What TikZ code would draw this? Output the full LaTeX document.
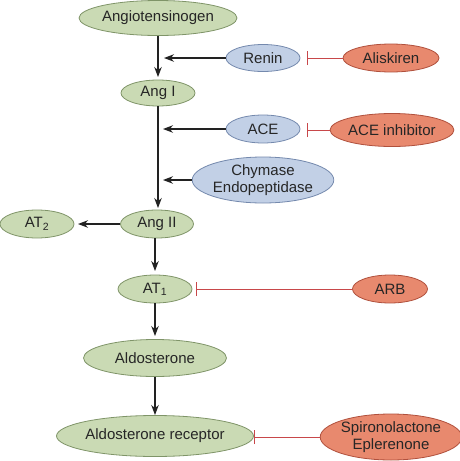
\documentclass[tikz,border=0pt]{standalone}
\usepackage{fontspec}
\setmainfont{Liberation Sans}
\usetikzlibrary{shapes.geometric,arrows.meta}
\definecolor{gfill}{HTML}{CADAB4}
\definecolor{gdraw}{HTML}{7F9468}
\definecolor{bfill}{HTML}{C2D0E6}
\definecolor{bdraw}{HTML}{7489AD}
\definecolor{rfill}{HTML}{E8896E}
\definecolor{rdraw}{HTML}{B0503C}
\definecolor{inh}{HTML}{C8474A}
\definecolor{arr}{HTML}{222222}
\tikzset{
  base/.style={ellipse,inner sep=0pt,line width=0.8pt,align=center,text=black!85,font=\fontsize{15}{16.5}\selectfont},
  gnode/.style={base,fill=gfill,draw=gdraw},
  bnode/.style={base,fill=bfill,draw=bdraw},
  rnode/.style={base,fill=rfill,draw=rdraw},
  act/.style={draw=arr,line width=1.2pt,-{Stealth[length=10pt,width=7.5pt]}},
  blk/.style={draw=inh,line width=1pt,-{Bar[width=14pt,line width=1pt]}},
}
\begin{document}
\begin{tikzpicture}[x=1pt,y=-1pt]
\useasboundingbox (0,0) rectangle (460,461);
\node[gnode,minimum width=142,minimum height=35] (agt) at (158,18) {Angiotensinogen};
\node[bnode,minimum width=74,minimum height=27] (renin) at (263,58) {Renin};
\node[rnode,minimum width=96,minimum height=28] (alis) at (391,58) {Aliskiren};
\node[gnode,minimum width=74,minimum height=26] (ang1) at (158,93) {Ang I};
\node[bnode,minimum width=74,minimum height=28] (ace) at (263,129) {ACE};
\node[rnode,minimum width=96,minimum height=33] (acei) at (392,130) {ACE inhibitor};
\node[bnode,minimum width=137,minimum height=46] (chy) at (263,180) {Chymase\\Endopeptidase};
\node[gnode,minimum width=73,minimum height=28] (ang2) at (157,224) {Ang II};
\node[gnode,minimum width=74,minimum height=28] (at2) at (37,224) {AT\textsubscript{2}};
\node[gnode,minimum width=74,minimum height=28] (at1) at (155,289) {AT\textsubscript{1}};
\node[rnode,minimum width=75,minimum height=28] (arb) at (390,289) {ARB};
\node[gnode,minimum width=143,minimum height=37] (aldo) at (155,358) {Aldosterone};
\node[gnode,minimum width=185,minimum height=41] (aldr) at (155,436) {Aldosterone receptor};
\node[rnode,minimum width=137,minimum height=46] (spiro) at (391,437) {Spironolactone\\Eplerenone};
\coordinate (c1) at (164,58);
\coordinate (c2) at (163,129);
\coordinate (c3) at (163,180);
\coordinate (b1) at (307,58);
\coordinate (b2) at (307,130);
\coordinate (b3) at (196,289);
\coordinate (b4) at (254,437);
\coordinate (t1) at (158,77);
\coordinate (t2) at (158,208);
\coordinate (t3) at (155,271);
\coordinate (t4) at (155,336);
\coordinate (t5) at (155,415);
\coordinate (t6) at (78,224);
\draw[act] (agt.south) -- (t1);
\draw[act] (ang1.south) -- (t2);
\draw[act] (ang2.south -| t3) -- (t3);
\draw[act] (at1.south) -- (t4);
\draw[act] (aldo.south) -- (t5);
\draw[act] (ang2.west) -- (t6);
\draw[act] (renin.west) -- (c1);
\draw[act] (ace.west) -- (c2);
\draw[act] (chy.west) -- (c3);
\draw[blk] (alis.west) -- (b1);
\draw[blk] (acei.west) -- (b2);
\draw[blk] (arb.west) -- (b3);
\draw[blk] (spiro.west) -- (b4);
\end{tikzpicture}
\end{document}
